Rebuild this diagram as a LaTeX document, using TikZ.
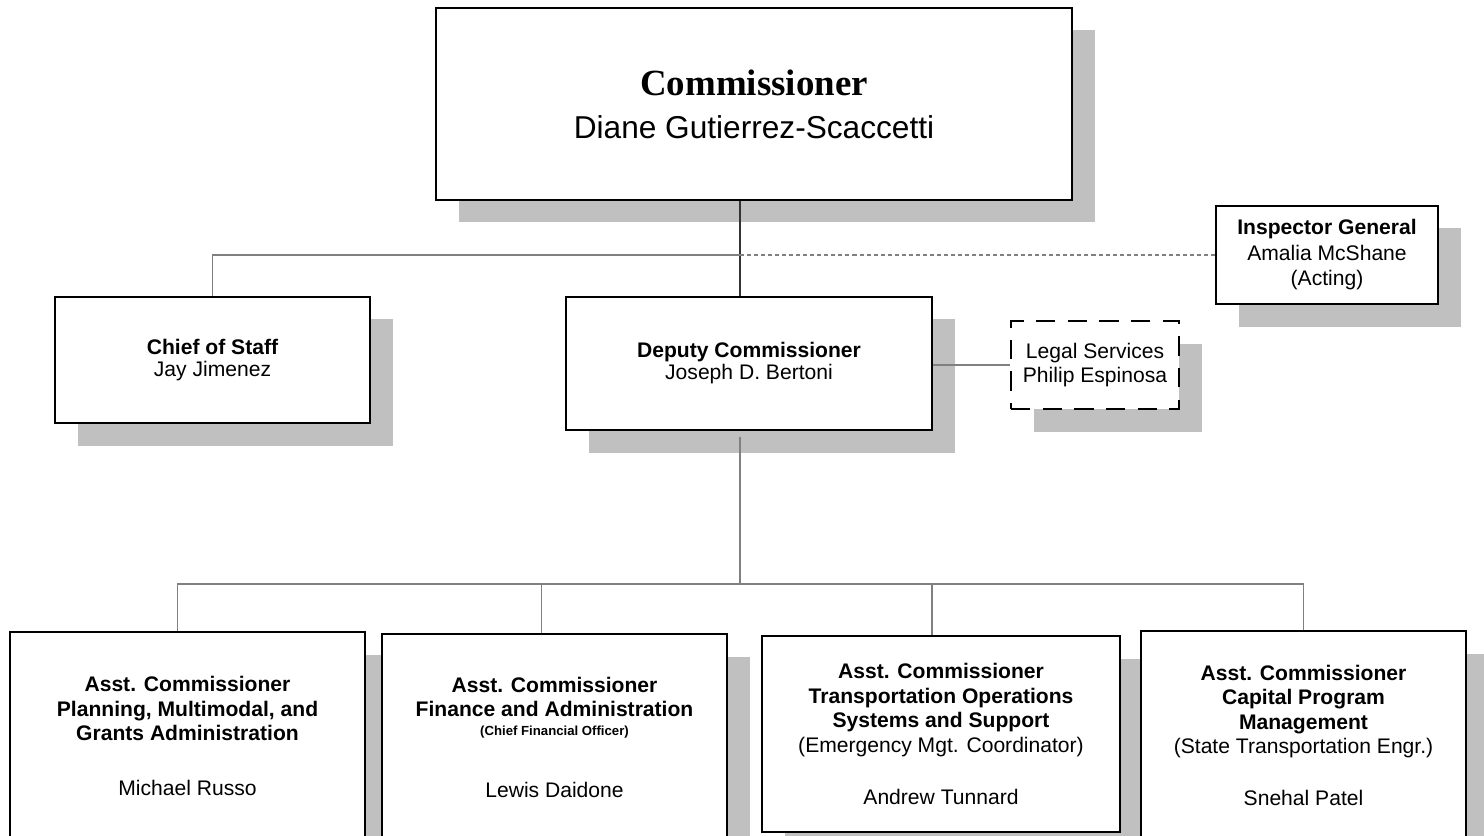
\documentclass[tikz,border=0pt]{standalone}
\usepackage{fontspec}
\setmainfont{Liberation Sans}
\newfontfamily\titlefont{Liberation Serif}
\usepackage{tikz}
\usetikzlibrary{shadows}
\definecolor{ShadeGrey}{HTML}{C0C0C0}
\definecolor{LinkGrey} {HTML}{808080}

\begin{document}
\begin{tikzpicture}[font=\fontsize{12}{13.9}\selectfont,
    box/.style={draw=black, line width=1.1pt, fill=white, align=center, inner sep=0pt,
                drop shadow={shadow xshift=0.45cm, shadow yshift=-0.45cm, fill=ShadeGrey, opacity=1}},
    link/.style={draw=LinkGrey, line width=0.85pt}]
  \useasboundingbox (0,0) rectangle (29.68,-16.72);
  % Top of the chart
  \node[box, minimum width=12.72cm, minimum height=3.84cm, font=\fontsize{18}{24.5}\selectfont] (com) at (15.08,-2.08)
    {{\titlefont\bfseries\fontsize{21}{24.5}\selectfont Commissioner}\\Diane Gutierrez-Scaccetti};
  \node[box, minimum width=4.44cm, minimum height=1.96cm, font=\fontsize{12}{14.5}\selectfont] (ig) at (26.54,-5.10)
    {\textbf{Inspector General}\\Amalia McShane\\(Acting)};
  % Second row
  \node[box, minimum width=6.30cm, minimum height=2.52cm, font=\fontsize{12}{12.5}\selectfont] (cos) at (4.25,-7.20)
    {\textbf{Chief of Staff}\\Jay Jimenez};
  \node[box, minimum width=7.32cm, minimum height=2.66cm, font=\fontsize{12}{12.5}\selectfont] (dep) at (14.98,-7.27)
    {\textbf{Deputy Commissioner}\\Joseph D. Bertoni};
  \node[box, dash pattern=on 11pt off 7pt, minimum width=3.36cm, minimum height=1.76cm, font=\fontsize{12}{13.6}\selectfont] (leg) at (21.90,-7.30)
    {Legal Services\\Philip Espinosa};
  % Assistant commissioners
  \node[box, minimum width=7.10cm, minimum height=4.16cm] (ac1) at (3.75,-14.72)
    {\textbf{Asst. Commissioner}\\\textbf{Planning, Multimodal, and}\\\textbf{Grants Administration}\\[17pt]Michael Russo};
  \node[box, minimum width=6.90cm, minimum height=4.12cm] (ac2) at (11.09,-14.74)
    {\textbf{Asst. Commissioner}\\\textbf{Finance and Administration}\\[-3pt]{\fontsize{7.5}{9}\selectfont\bfseries (Chief Financial Officer)}\\[21pt]Lewis Daidone};
  \node[box, minimum width=7.16cm, minimum height=3.92cm] (ac3) at (18.82,-14.68)
    {\textbf{Asst. Commissioner}\\\textbf{Transportation Operations}\\\textbf{Systems and Support}\\(Emergency Mgt. Coordinator)\\[15.6pt]Andrew Tunnard};
  \node[box, minimum width=6.50cm, minimum height=4.18cm] (ac4) at (26.07,-14.71)
    {\textbf{Asst. Commissioner}\\\textbf{Capital Program}\\\textbf{Management}\\(State Transportation Engr.)\\[15.6pt]Snehal Patel};
  % Connectors
  \coordinate (spine) at (14.80,-5.10);
  \coordinate (bus) at (14.80,-11.68);
  \draw[link, draw=black!80] (com.south -| spine) -- (dep.north -| spine);
  \draw[link] (cos.north) |- (spine);
  \draw[link, dash pattern=on 2.3pt off 1.7pt] (spine) -- (ig.west);
  \draw[link] (dep.east |- leg.west) -- (leg.west);
  \draw[link] ([yshift=-0.12cm]dep.south -| bus) -- (bus);
  \draw[link] ([xshift=-0.2cm]ac1.north) |- (bus) -| (ac4.north);
  \draw[link] ([xshift=-0.26cm]ac2.north) -- ([xshift=-0.26cm]ac2.north |- bus);
  \draw[link] ([xshift=-0.18cm]ac3.north) -- ([xshift=-0.18cm]ac3.north |- bus);
\end{tikzpicture}
\end{document}
